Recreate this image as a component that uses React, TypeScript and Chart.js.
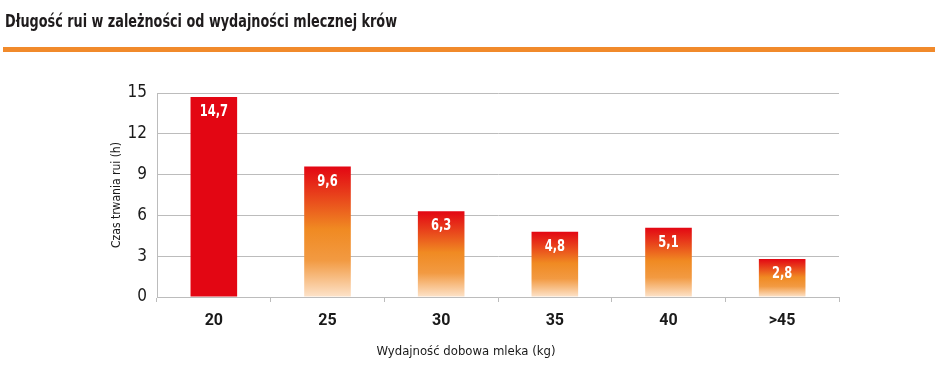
import React, { useEffect, useRef } from "react";
import { Chart, registerables } from "chart.js";
Chart.register(...registerables);

const categories = ["20", "25", "30", "35", "40", ">45"];
const values = [14.7, 9.6, 6.3, 4.8, 5.1, 2.8];
const yTickValues = [0, 3, 6, 9, 12, 15];
const chartTitle = "Długość rui w zależności od wydajności mlecznej krów";
const yTitle = "Czas trwania rui (h)";
const xTitle = "Wydajność dobowa mleka (kg)";

const NARROW = "'Liberation Sans Narrow', 'DejaVu Sans Condensed', 'Roboto Condensed', Roboto, sans-serif";
const RED = "#e30613";
const GRID = "#bcbcbc";

export default function App() {
  const ref = useRef<HTMLCanvasElement | null>(null);
  useEffect(() => {
    document.body.style.margin = "0";
    const canvas = ref.current!;
    const deco = {
      id: "deco",
      beforeDraw(chart: any) {
        const c = chart.ctx;
        c.save();
        c.fillStyle = "#ffffff";
        c.fillRect(0, 0, chart.width, chart.height);
        c.fillStyle = "#1e1b1c";
        c.font = `bold 18px ${NARROW}`;
        c.textBaseline = "alphabetic";
        c.textAlign = "left";
        const w = c.measureText(chartTitle).width;
        c.translate(5, 27);
        c.scale(392 / w, 1);
        c.fillText(chartTitle, 0, 0);
        c.restore();
        c.save();
        c.fillStyle = "#f18a2b";
        c.fillRect(3, 47, 932, 5);
        c.restore();
      },
      afterDraw(chart: any) {
        const c = chart.ctx;
        c.save();
        c.fillStyle = "#1a1a1a";
        c.font = `13px ${NARROW}`;
        c.textAlign = "center";
        c.textBaseline = "middle";
        c.fillText(xTitle, 466, 352);
        c.restore();
      },
      afterDatasetsDraw(chart: any) {
        const c = chart.ctx;
        const meta = chart.getDatasetMeta(0);
        meta.data.forEach((el: any, i: number) => {
          const v = chart.data.datasets[0].data[i] as number;
          c.save();
          c.fillStyle = "#ffffff";
          c.font = `bold 16px ${NARROW}`;
          c.textAlign = "center";
          c.textBaseline = "middle";
          c.translate(el.x, el.y + 15);
          c.scale(0.8, 1);
          c.fillText(v.toFixed(1).replace(".", ","), 0, 0);
          c.restore();
        });
      },
    };
    const chart = new Chart(canvas, {
      type: "bar",
      data: {
        labels: categories,
        datasets: [
          {
            data: values,
            barPercentage: 0.41,
            categoryPercentage: 1,
            backgroundColor: (ctx: any) => {
              if (ctx.type !== "data" || ctx.dataIndex === 0) return RED;
              const chart = ctx.chart;
              const y = chart.scales?.y;
              if (!chart.chartArea || !y) return "#f08a22";
              const top = y.getPixelForValue(ctx.raw);
              const bottom = y.getPixelForValue(0);
              const g = chart.ctx.createLinearGradient(0, top, 0, bottom);
              g.addColorStop(0, "#e30613");
              g.addColorStop(0.18, "#e7361a");
              g.addColorStop(0.48, "#f08a22");
              g.addColorStop(0.72, "#f29a42");
              g.addColorStop(1, "#fde3ca");
              return g;
            },
          },
        ],
      },
      options: {
        animation: false,
        responsive: false,
        layout: { padding: { left: 0, right: 101, top: 93, bottom: 0 } },
        plugins: { legend: { display: false }, tooltip: { enabled: false } },
        scales: {
          x: {
            grid: { drawOnChartArea: false, drawTicks: true, tickLength: 5, color: GRID, offset: true },
            border: { color: GRID },
            ticks: { color: "#1a1a1a", font: { family: "Roboto", weight: "bold", size: 16 }, padding: 9 },
            title: { display: false },
            afterFit: (s: any) => { s.height = 71; },
          },
          y: {
            min: 0,
            max: 15,
            afterBuildTicks: (s: any) => { s.ticks = yTickValues.map((v) => ({ value: v })); },
            grid: { drawTicks: false, color: GRID },
            border: { color: GRID },
            ticks: { color: "#1a1a1a", font: { family: NARROW, size: 17 }, padding: 10 },
            title: { display: true, text: yTitle, color: "#1a1a1a", font: { family: NARROW, size: 12 }, padding: { top: 110, bottom: 0 } },
            afterFit: (s: any) => { s.width = 157; },
          },
        },
      },
      plugins: [deco],
    });
    return () => chart.destroy();
  }, []);
  return <canvas ref={ref} width={940} height={368} style={{ display: "block" }} />;
}
